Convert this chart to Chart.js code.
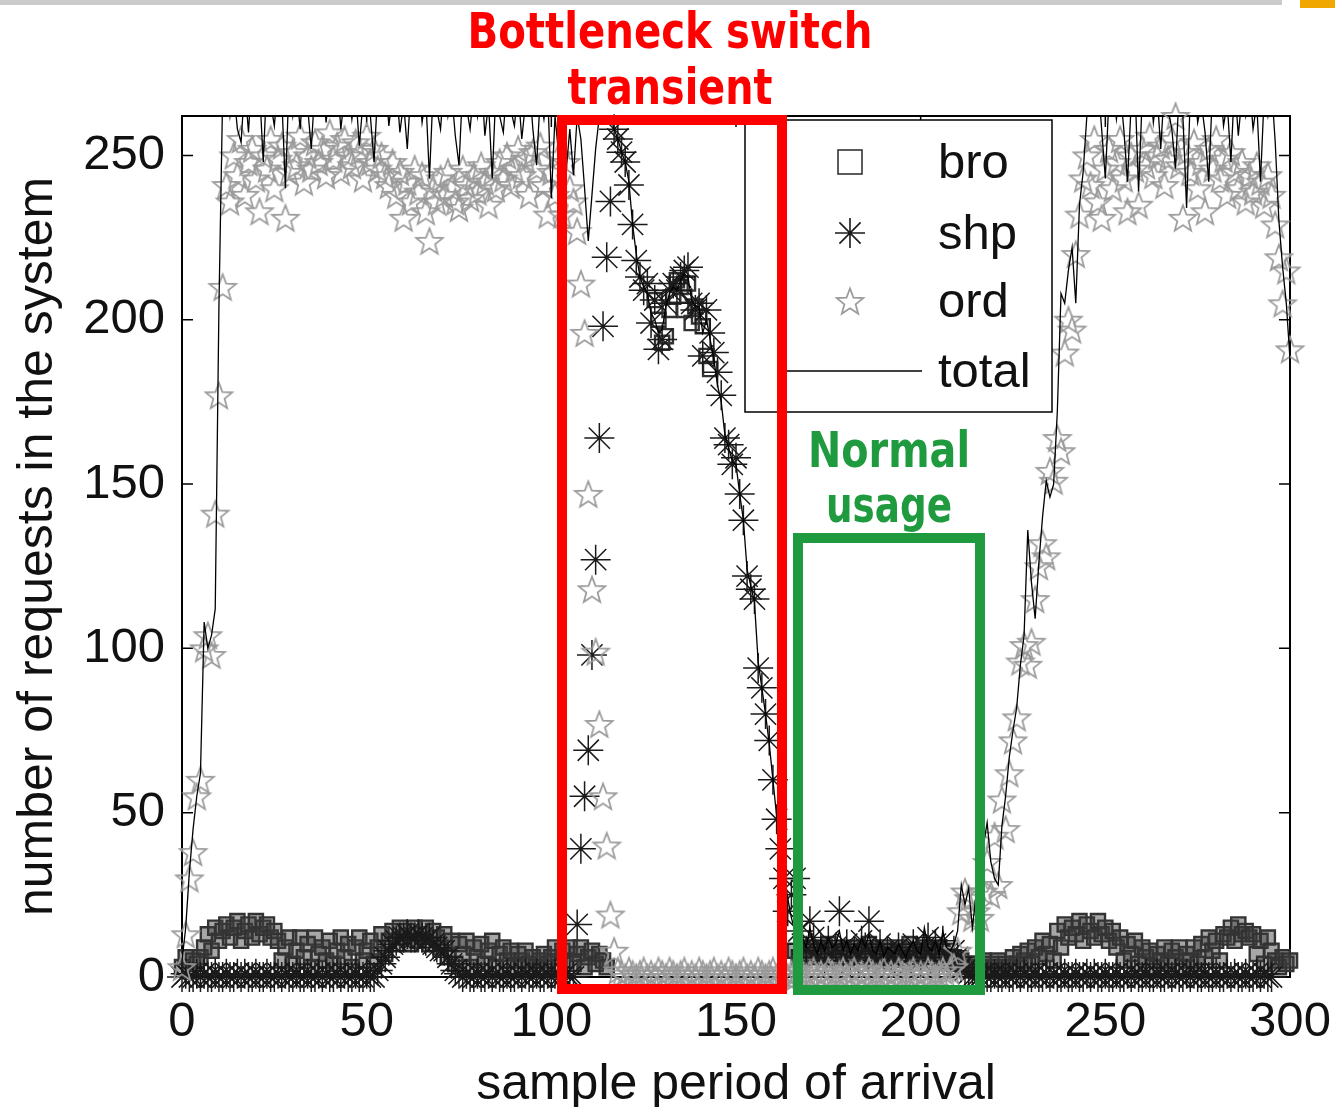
<!DOCTYPE html>
<html lang="en">
<head>
<meta charset="UTF-8">
<title>Requests in the system</title>
<script src="https://cdn.jsdelivr.net/npm/chart.js"></script>
<style>
    html, body { margin: 0; padding: 0; background: #fff; }
    #wrap { position: absolute; left: 0; top: 0; width: 1335px; height: 1107px; }
    .topbar { position: absolute; left: 0; top: 0; width: 1282px; height: 5px; background: #cbcbcb; }
    .corner { position: absolute; left: 1300px; top: 0; width: 35px; height: 8px; background: #f0a800; }
</style>
</head>
<body>
<div id="wrap"><canvas id="chart" width="1335" height="1107"></canvas></div>
<div class="topbar"></div>
<div class="corner"></div>

<script>
    // sample period 0..300, one value per period
    var xTicks = [0, 50, 100, 150, 200, 250, 300];
    var yTicks = [0, 50, 100, 150, 200, 250];
    var seriesNames = ['bro', 'shp', 'ord', 'total'];

    var bro = [
        3, 6, 2, 5, 4, 6, 9, 13, 8, 15,
        11, 14, 16, 12, 15, 17, 11, 14, 16, 12,
        17, 13, 15, 16, 12, 14, 11, 5, 9, 12,
        4, 8, 12, 6, 10, 3, 12, 7, 9, 5,
        11, 4, 8, 12, 6, 10, 3, 9, 12, 5,
        8, 11, 4, 9, 13, 7, 11, 14, 10, 15,
        12, 14, 10, 15, 11, 13, 15, 10, 14, 12,
        9, 13, 6, 11, 4, 10, 7, 11, 3, 9,
        6, 10, 4, 8, 11, 3, 7, 9, 5, 8,
        3, 7, 5, 8, 4, 6, 3, 5, 7, 4,
        6, 9, 3, 8, 5, 9, 4, 7, 9, 3,
        6, 8, 4, 7, 5, 3, null, null, null, null,
        null, null, null, null, null, null, null, null, 206, 200,
        193, 195, 203, 207, 212, 210, 203, 211, 199, 204,
        201, 198, 189, 185, null, null, null, null, null, null,
        null, null, null, null, null, null, null, null, null, null,
        null, null, null, null, null, null, 8, 6, 9, 7,
        8, 6, 9, 7, 8, 10, 6, 8, 7, 9,
        6, 8, 7, 9, 6, 8, 10, 7, 8, 6,
        9, 7, 8, 6, 9, 7, 8, 10, 6, 8,
        7, 9, 6, 8, 7, 9, 6, 8, 5, 6,
        4, 5, 3, 4, 2, 4, 3, 5, 2, 4,
        3, 5, 2, 4, 3, 6, 4, 7, 5, 8,
        4, 9, 6, 11, 7, 10, 5, 14, 9, 16,
        12, 15, 13, 17, 11, 16, 14, 12, 17, 13,
        15, 11, 14, 9, 12, 5, 10, 7, 11, 4,
        9, 6, 8, 3, 7, 5, 9, 4, 8, 6,
        9, 3, 7, 5, 9, 4, 10, 6, 12, 8,
        11, 5, 13, 12, 15, 11, 16, 13, 14, 12,
        13, 7, 11, 4, 12, 8, 5, 3, 6, 4,
        5
    ];

    var shp = [
        0, 1, 0, 0, 1, 0, 1, 0, 0, 1,
        0, 0, 1, 0, 0, 1, 0, 1, 0, 0,
        1, 0, 0, 1, 0, 0, 1, 0, 1, 0,
        0, 1, 0, 0, 1, 0, 0, 1, 0, 1,
        0, 0, 1, 0, 1, 0, 0, 1, 0, 0,
        1, 0, 0, 2, 4, 6, 8, 10, 11, 12,
        12, 13, 12, 12, 13, 12, 11, 12, 10, 9,
        8, 8, 6, 4, 2, 1, 0, 1, 0, 0,
        1, 0, 0, 1, 0, 1, 0, 0, 1, 0,
        0, 1, 0, 1, 0, 0, 1, 0, 0, 1,
        0, 1, 0, 0, 1, 0, 0, 16, 39, 55,
        69, 98, 127, 164, 198, 219, 236, 258, 255, 251,
        248, 241, 229, 218, 213, 209, 211, 199, 206, 191,
        194, 205, 209, 211, 209, 213, 215, 216, 205, 203,
        205, 189, 203, 196, 190, 184, 177, 164, 162, 156,
        158, 147, 139, 122, 118, 115, 94, 88, 80, 72,
        60, 48, 39, 30, 20, 25, 30, 14, 10, 8,
        17, 12, 6, 9, 5, 11, 7, 9, 20, 6,
        10, 4, 8, 6, 11, 9, 17, 7, 5, 10,
        4, 8, 6, 5, 9, 7, 3, 6, 10, 8,
        5, 9, 12, 6, 10, 4, 11, 7, 5, 8,
        6, 3, 2, 1, 0, 0, 0, 1, 0, 0,
        1, 0, 0, 1, 0, 0, 1, 0, 1, 0,
        0, 1, 0, 0, 1, 0, 1, 0, 0, 1,
        0, 0, 1, 0, 0, 1, 0, 1, 0, 0,
        1, 0, 0, 1, 0, 0, 1, 0, 1, 0,
        0, 1, 0, 0, 1, 0, 0, 1, 0, 1,
        0, 0, 1, 0, 1, 0, 0, 1, 0, 0,
        1, 0, 0, 1, 0, 1, 0, 0, 1, 0,
        0, 1, 0, 1, 0, 0, null, null, null, null,
        null
    ];

    var ord = [
        3, 13, 30, 38, 55, 60, 100, 104, 98, 141,
        177, 210, 241, 236, 250, 244, 255, 238, 248, 252,
        243, 233, 250, 246, 255, 240, 249, 253, 231, 245,
        251, 247, 256, 242, 250, 246, 254, 248, 252, 244,
        257, 249, 253, 245, 255, 250, 247, 254, 251, 243,
        256, 248, 252, 246, 250, 244, 241, 248, 238, 245,
        231, 242, 236, 246, 239, 244, 233, 224, 240, 236,
        243, 238, 245, 240, 236, 234, 246, 241, 237, 244,
        239, 247, 242, 235, 245, 240, 248, 243, 250, 241,
        246, 252, 244, 249, 238, 251, 246, 253, 241, 232,
        245, 238, 250, 232, 248, 240, 236, 227, 211, 196,
        147, 118, 99, 77, 55, 40, 19, 8, 2, 1,
        0, 2, 1, 0, 1, 2, 0, 1, 0, 2,
        1, 0, 2, 1, 0, 1, 2, 0, 1, 0,
        2, 1, 0, 1, 2, 0, 1, 0, 2, 1,
        0, 1, 2, 0, 1, 0, 2, 1, 0, 1,
        2, 0, 1, 2, 0, 1, 0, 2, 1, 0,
        1, 2, 0, 1, 0, 2, 1, 0, 1, 2,
        0, 1, 2, 0, 1, 0, 2, 1, 0, 1,
        2, 0, 1, 0, 2, 1, 0, 1, 2, 0,
        1, 0, 2, 1, 0, 1, 2, 0, 2, 3,
        8, 20, 26, 24, 18, 20, 18, 26, 35, 25,
        43, 28, 54, 45, 62, 72, 79, 96, 101, 95,
        102, 115, 125, 132, 128, 154, 151, 164, 160, 190,
        200, 197, 220, 232, 243, 250, 241, 255, 236, 231,
        246, 252, 240, 248, 255, 243, 233, 250, 246, 235,
        252, 247, 256, 244, 250, 253, 241, 249, 255, 262,
        247, 231, 251, 245, 254, 240, 248, 233, 252, 246,
        255, 243, 249, 238, 251, 245, 240, 248, 236, 244,
        239, 247, 242, 235, 244, 238, 229, 219, 205, 215,
        191
    ];

    var total = [
        5, 15, 32, 45, 55, 62, 108, 100, 104, 112,
        204, 268, 275, 262, 270, 258, 254, 272, 257, 276,
        264, 270, 248, 274, 266, 259, 272, 268, 240, 273,
        262, 270, 258, 275, 265, 252, 271, 267, 276, 260,
        270, 263, 274, 258, 268, 272, 261, 270, 253, 266,
        273, 262, 248, 270, 264, 275, 259, 268, 272, 257,
        266, 252, 271, 263, 274, 260, 268, 243, 270, 264,
        258, 273, 262, 269, 256, 247, 271, 265, 258, 270,
        262, 275, 256, 266, 243, 270, 262, 257, 272, 264,
        259, 270, 255, 266, 273, 258, 247, 268, 261, 270,
        237, 262, 250, 265, 245, 258, 244, 262, 255, 240,
        224, 238, 252, 262, 265, 262, 262, 258, 255, 251,
        248, 242, 229, 220, 213, 210, 208, 202, 200, 196,
        197, 204, 208, 210, 209, 212, 214, 213, 206, 204,
        204, 196, 200, 194, 188, 180, 175, 165, 161, 157,
        156, 147, 139, 124, 119, 114, 96, 88, 80, 71,
        60, 49, 40, 32, 24, 18, 14, 18, 12, 9,
        15, 10, 7, 11, 8, 12, 9, 10, 14, 8,
        11, 7, 10, 8, 12, 9, 13, 8, 7, 11,
        6, 9, 8, 7, 10, 8, 6, 9, 11, 8,
        7, 15, 9, 8, 11, 7, 14, 9, 8, 10,
        14, 28, 22, 27, 15, 25, 30, 40, 47, 35,
        30, 28, 46, 55, 67, 75, 82, 95, 104, 136,
        120, 109, 126, 140, 151, 146, 150, 172, 208, 205,
        215, 222, 205, 235, 245, 262, 270, 264, 273, 258,
        243, 268, 272, 261, 270, 258, 242, 266, 272, 239,
        268, 263, 274, 260, 269, 252, 271, 264, 258, 246,
        270, 262, 234, 268, 273, 260, 266, 257, 242, 270,
        263, 274, 259, 266, 248, 272, 256, 268, 262, 272,
        258, 266, 242, 268, 262, 271, 254, 230, 216, 205,
        188
    ];

    function toPoints(arr) {
        return arr.map(function (v, i) { return { x: i, y: v }; });
    }

    // hollow five-point star used for "ord"
    function makeStar(r, color) {
        var s = Math.ceil(r * 2 + 4);
        var c = document.createElement('canvas');
        c.width = s; c.height = s;
        var g = c.getContext('2d');
        g.strokeStyle = color;
        g.lineWidth = 1.7;
        g.beginPath();
        for (var k = 0; k < 10; k++) {
            var rr = (k % 2 === 0) ? r : r * 0.42;
            var a = -Math.PI / 2 + k * Math.PI / 5;
            var px = s / 2 + rr * Math.cos(a);
            var py = s / 2 + r * 0.1 + rr * Math.sin(a);
            if (k === 0) g.moveTo(px, py); else g.lineTo(px, py);
        }
        g.closePath();
        g.stroke();
        return c;
    }
    var starImg = makeStar(14, '#9a9a9a');

    var FONT = '"Liberation Sans", Arial, sans-serif';

    // frame + inside tick marks
    var framePlugin = {
        id: 'frame',
        beforeDatasetsDraw: function (chart) {
            var ctx = chart.ctx, a = chart.chartArea;
            var sx = chart.scales.x, sy = chart.scales.y;
            ctx.save();
            ctx.strokeStyle = '#000';
            ctx.lineWidth = 2;
            ctx.strokeRect(a.left, a.top, a.right - a.left, a.bottom - a.top);
            ctx.lineWidth = 1.5;
            ctx.beginPath();
            yTicks.forEach(function (v) {
                var p = sy.getPixelForValue(v);
                ctx.moveTo(a.left, p); ctx.lineTo(a.left + 11, p);
                ctx.moveTo(a.right, p); ctx.lineTo(a.right - 11, p);
            });
            xTicks.forEach(function (v) {
                var p = sx.getPixelForValue(v);
                ctx.moveTo(p, a.bottom); ctx.lineTo(p, a.bottom - 11);
                ctx.moveTo(p, a.top); ctx.lineTo(p, a.top + 11);
            });
            ctx.stroke();
            ctx.restore();
        }
    };

    // gnuplot style key box
    var keyPlugin = {
        id: 'key',
        afterDatasetsDraw: function (chart) {
            var ctx = chart.ctx;
            var bx = 745, by = 120, bw = 307, bh = 292;
            ctx.save();
            ctx.fillStyle = '#fff';
            ctx.fillRect(bx, by, bw, bh);
            ctx.strokeStyle = '#000';
            ctx.lineWidth = 1.5;
            ctx.strokeRect(bx, by, bw, bh);

            var rows = [162, 233, 301, 371];
            var mx = 850;
            // bro
            ctx.strokeStyle = '#333';
            ctx.lineWidth = 1.6;
            ctx.strokeRect(mx - 12, rows[0] - 12, 24, 24);
            // shp
            ctx.strokeStyle = '#1a1a1a';
            ctx.lineWidth = 1.6;
            ctx.beginPath();
            for (var k = 0; k < 4; k++) {
                var ang = k * Math.PI / 4;
                ctx.moveTo(mx - 15 * Math.cos(ang), rows[1] - 15 * Math.sin(ang));
                ctx.lineTo(mx + 15 * Math.cos(ang), rows[1] + 15 * Math.sin(ang));
            }
            ctx.stroke();
            // ord
            ctx.drawImage(starImg, mx - starImg.width / 2, rows[2] - starImg.height / 2);
            // total
            ctx.strokeStyle = '#000';
            ctx.lineWidth = 1.5;
            ctx.beginPath();
            ctx.moveTo(787, rows[3]); ctx.lineTo(922, rows[3]);
            ctx.stroke();

            ctx.fillStyle = '#111';
            ctx.font = '49px ' + FONT;
            ctx.textAlign = 'left';
            ctx.textBaseline = 'middle';
            seriesNames.forEach(function (n, i) {
                ctx.fillText(n, 938, rows[i] + 2);
            });
            ctx.restore();
        }
    };

    // highlighted regions and their notes
    var notePlugin = {
        id: 'notes',
        afterDraw: function (chart) {
            var ctx = chart.ctx;
            ctx.save();
            ctx.lineWidth = 10;
            ctx.strokeStyle = '#ff0000';
            ctx.strokeRect(562, 120, 220, 869);
            ctx.strokeStyle = '#1f9a3e';
            ctx.strokeRect(798, 538, 182, 452);

            ctx.textAlign = 'center';
            ctx.textBaseline = 'alphabetic';
            ctx.font = 'bold 49px "DejaVu Sans", sans-serif';
            ctx.fillStyle = '#ff0000';
            ctx.fillText('Bottleneck switch', 670, 48, 405);
            ctx.fillText('transient', 670, 104, 205);
            ctx.fillStyle = '#1f9a3e';
            ctx.fillText('Normal', 889, 467, 162);
            ctx.fillText('usage', 889, 522, 126);
            ctx.restore();
        }
    };

    var ctx = document.getElementById('chart').getContext('2d');
    var chart = new Chart(ctx, {
        type: 'scatter',
        data: {
            datasets: [
                {
                    label: 'total',
                    data: toPoints(total),
                    showLine: true,
                    borderColor: '#000',
                    borderWidth: 1.3,
                    pointRadius: 0,
                    tension: 0,
                    order: 0
                },
                {
                    label: 'ord',
                    data: toPoints(ord),
                    pointStyle: starImg,
                    pointRadius: 14,
                    clip: false,
                    order: 1
                },
                {
                    label: 'shp',
                    data: toPoints(shp),
                    pointStyle: 'star',
                    pointRadius: 15,
                    pointBorderColor: '#1a1a1a',
                    pointBorderWidth: 1.5,
                    clip: false,
                    order: 2
                },
                {
                    label: 'bro',
                    data: toPoints(bro),
                    pointStyle: 'rect',
                    pointRadius: 10,
                    pointBorderColor: '#333',
                    // the dense low band reads as solid grey, isolated squares stay hollow
                    pointBackgroundColor: function (c) {
                        return (c.raw && c.raw.y > 50) ? 'rgba(0,0,0,0)' : 'rgba(60,60,60,0.45)';
                    },
                    pointBorderWidth: 2.4,
                    clip: false,
                    order: 3
                }
            ]
        },
        options: {
            responsive: false,
            animation: false,
            layout: { padding: { left: 0, top: 116, right: 45, bottom: 0 } },
            plugins: {
                legend: { display: false },
                tooltip: { enabled: false }
            },
            scales: {
                x: {
                    type: 'linear',
                    min: 0,
                    max: 300,
                    grid: { display: false, drawTicks: false },
                    border: { display: false },
                    afterFit: function (s) {
                        s.height = 130;
                        s.paddingLeft = 0;
                        s.paddingRight = 0;
                    },
                    afterBuildTicks: function (s) {
                        s.ticks = xTicks.map(function (v) { return { value: v }; });
                    },
                    ticks: {
                        autoSkip: false,
                        maxRotation: 0,
                        padding: 16,
                        color: '#111',
                        font: { size: 49, family: FONT }
                    },
                    title: {
                        display: true,
                        text: 'sample period of arrival',
                        color: '#111',
                        padding: { top: 0, bottom: 0 },
                        font: { size: 50, family: FONT, lineHeight: 0.88 }
                    }
                },
                y: {
                    type: 'linear',
                    min: 0,
                    max: 262,
                    grid: { display: false, drawTicks: false },
                    border: { display: false },
                    afterFit: function (s) {
                        s.width = 182;
                        s.paddingTop = 0;
                        s.paddingBottom = 0;
                    },
                    afterBuildTicks: function (s) {
                        s.ticks = yTicks.map(function (v) { return { value: v }; });
                    },
                    ticks: {
                        padding: 17,
                        color: '#111',
                        font: { size: 49, family: FONT }
                    },
                    title: {
                        display: true,
                        text: 'number of requests in the system',
                        color: '#111',
                        padding: { top: 8, bottom: 0 },
                        font: { size: 50, family: FONT }
                    }
                }
            }
        },
        plugins: [framePlugin, keyPlugin, notePlugin]
    });
</script>
</body>
</html>
